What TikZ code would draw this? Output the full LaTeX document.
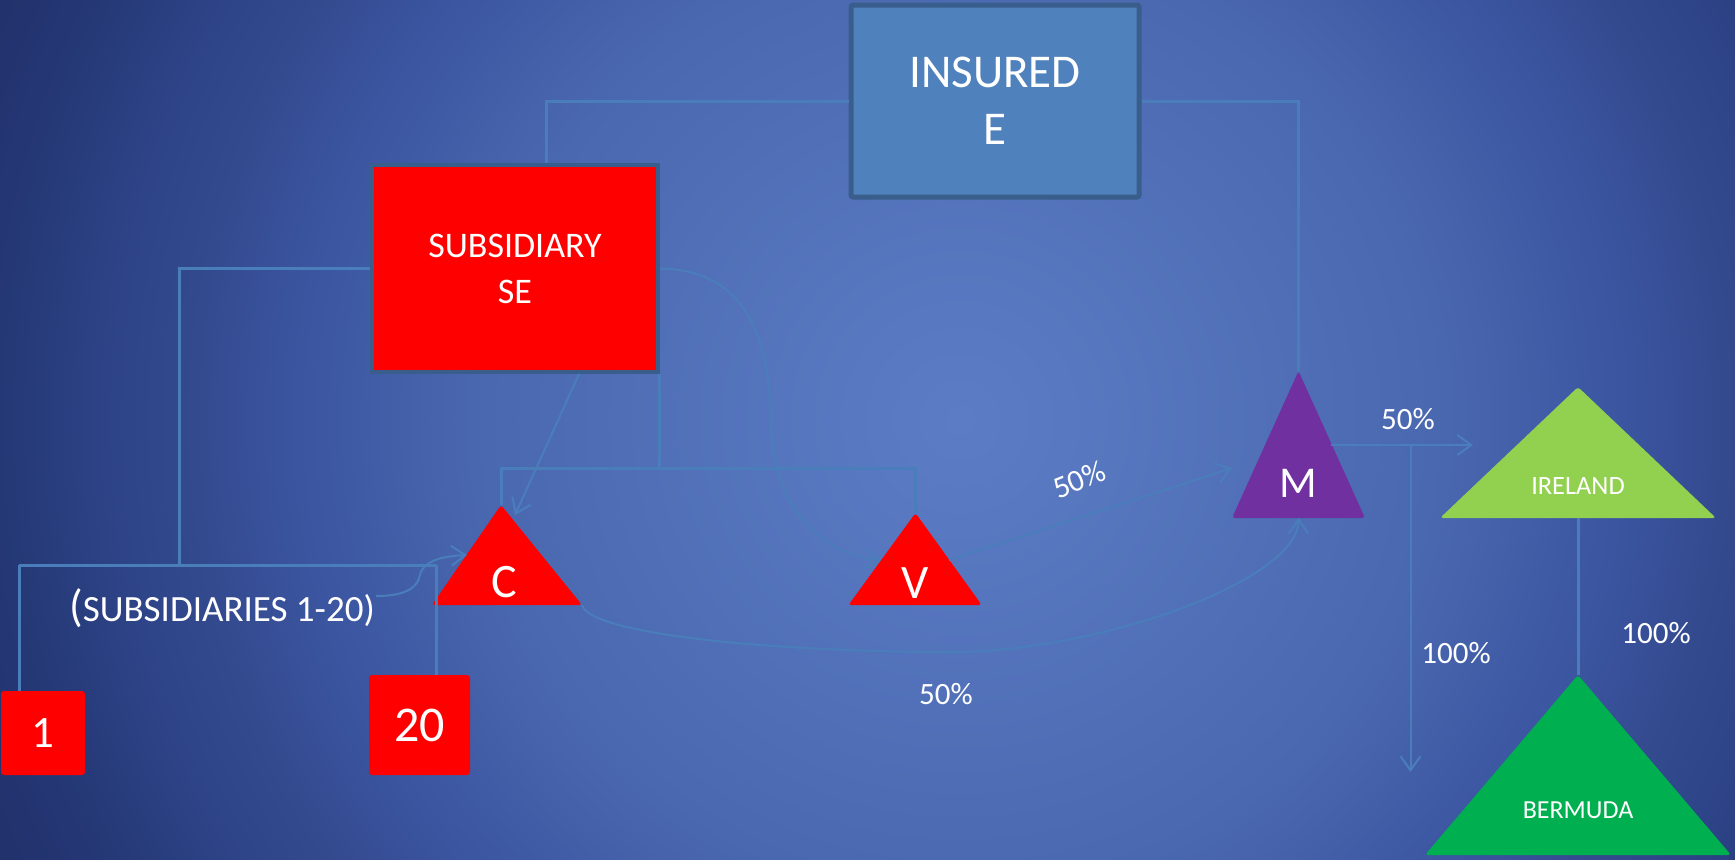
\documentclass[tikz,border=0pt]{standalone}
\usepackage{fontspec}
\setmainfont{Carlito}
\usetikzlibrary{arrows.meta}
\definecolor{conn}{RGB}{74,126,187}
\definecolor{insfill}{RGB}{79,129,189}
\definecolor{boxborder}{RGB}{58,94,139}
\definecolor{redfill}{RGB}{255,0,0}
\definecolor{purplefill}{RGB}{112,48,160}
\definecolor{lightgreen}{RGB}{146,208,80}
\definecolor{darkgreen}{RGB}{0,176,80}
\pgfdeclareradialshading{bgshade}{\pgfpoint{0bp}{0bp}}{%
rgb(0bp)=(0.361,0.490,0.776);
rgb(10.8bp)=(0.290,0.408,0.690);
rgb(15.1bp)=(0.231,0.333,0.627);
rgb(17.4bp)=(0.204,0.290,0.561);
rgb(19.2bp)=(0.180,0.267,0.533);
rgb(21.4bp)=(0.149,0.227,0.471);
rgb(23.2bp)=(0.133,0.200,0.435);
rgb(25bp)=(0.125,0.188,0.412);
rgb(50bp)=(0.125,0.188,0.412)}
\tikzset{
  ln/.style={draw=conn, line width=1.5pt},
  thinln/.style={draw=conn, line width=1pt},
  arr/.style={thinln, -{Straight Barb[length=7pt,width=10pt]}},
  insbox/.style={fill=insfill, draw=boxborder, line width=2.5pt, rounded corners=1pt, text=white, align=center, inner sep=0pt},
  subbox/.style={fill=redfill, draw=boxborder, line width=2pt, text=white, align=center, inner sep=0pt},
  redsq/.style={fill=redfill, rounded corners=1.5pt, inner sep=0pt, text=white},
  lbl/.style={text=white, inner sep=0pt},
  tri/.style={rounded corners=1.5pt}
}
\begin{document}
\begin{tikzpicture}[x=0.5pt, y=-0.5pt]
\useasboundingbox (0,0) rectangle (1735,859);
% background
\begin{scope}
\clip (0,0) rectangle (1735,859);
\shade[shading=bgshade] (-140,-680) rectangle (2060,1520);
\end{scope}

% boxes
\node[insbox, minimum width=144pt, minimum height=96pt, font=\fontsize{23.5}{28.5}\selectfont] (ins) at (995,101) {INSURED\\E};
\node[subbox, minimum width=143pt, minimum height=103.5pt, font=\fontsize{18}{23}\selectfont] (sub) at (515,268.5) {SUBSIDIARY\\SE};
\node[redsq, minimum width=42pt, minimum height=42pt, font=\fontsize{22.5}{27}\selectfont] (b1) at (43,733) {1};
\node[redsq, minimum width=50.5pt, minimum height=50pt, font=\fontsize{25}{30}\selectfont] (b20) at (419.5,725) {20};

% triangle corners
\coordinate (Ca) at (501,505); \coordinate (Cl) at (432,605); \coordinate (Cr) at (582,605);
\coordinate (Va) at (915.5,513); \coordinate (Vl) at (848.5,605); \coordinate (Vr) at (981.7,605);
\coordinate (Ma) at (1298.5,371); \coordinate (Ml) at (1232,518); \coordinate (Mr) at (1365,518);
\coordinate (Ia) at (1578,387); \coordinate (Il) at (1440,518); \coordinate (Ir) at (1716,518);
\coordinate (Ba) at (1578,675); \coordinate (Bl) at (1425,855); \coordinate (Br) at (1731,855);

\fill[redfill, tri] (Ca) -- (Cl) -- (Cr) -- cycle;
\fill[redfill, tri] (Va) -- (Vl) -- (Vr) -- cycle;
\fill[purplefill, tri] (Ma) -- (Ml) -- (Mr) -- cycle;
\fill[lightgreen, tri] (Ia) -- (Il) -- (Ir) -- cycle;
\fill[darkgreen, tri] (Ba) -- (Bl) -- (Br) -- cycle;

\node[lbl, font=\fontsize{24}{28}\selectfont] (Ct) at (504,582) {C};
\node[lbl, font=\fontsize{24}{28}\selectfont] (Vt) at (915,583) {V};
\node[lbl, font=\fontsize{22}{26}\selectfont] (Mt) at (1298.5,483) {M};
\node[lbl, font=\fontsize{13.2}{16}\selectfont] (It) at (1578,486) {IRELAND};
\node[lbl, font=\fontsize{13}{16}\selectfont] (Bt) at (1578,810) {BERMUDA};

% helper coordinates
\coordinate (subtop) at (546,163);
\coordinate (tb) at (179,565);
\coordinate (h1) at (19,565);
\coordinate (h2) at (436,565);
\coordinate (sbr) at (659.5,374);
\coordinate (cvbar) at (700,468);
\coordinate (sbc) at (579,374);
\coordinate (Cin) at (515,515);
\coordinate (Vlin) at (881,560);
\coordinate (Vrin) at (949,560);
\coordinate (Mlout) at (1232,468);
\coordinate (Mb) at (1298.5,518);
\coordinate (subsend) at (376,596);
\coordinate (Cleft) at (467,555);
\coordinate (Mright) at (1331,445);
\coordinate (Iarr) at (1473,445);
\coordinate (dstart) at (1410.5,445);
\coordinate (dend) at (1410.5,772);
\coordinate (Ibase) at (1578,518);

% orthogonal connectors
\draw[ln] (ins.west) -| (subtop);
\draw[ln] (ins.east) -| (Ma);
\draw[ln] (sub.west) -| (tb);
\draw[ln] (h1) -- (h2);
\draw[ln] (h1) -- (h1 |- b1.north);
\draw[ln] (h2) -- (h2 |- b20.north);
\draw[ln] (sbr) -- (sbr |- cvbar);
\draw[ln] (Ca) -- (Ca |- cvbar) -- (Va |- cvbar) -- (Va);
\draw[ln] (Ibase) -- (Ba);

% arrows and curves
\draw[arr] (sbc) -- (Cin);
\draw[arr] (sub.east) .. controls (745,270) and (770,335) .. (771,425) .. controls (772,505) and (822,555) .. (Vlin);
\draw[arr] (Vrin) -- (Mlout);
\draw[arr] (Cr) .. controls (590,635) and (780,652) .. (950,652) .. controls (1100,652) and (1298.5,580) .. (Mb);
\draw[arr] (subsend) .. controls (410,596) and (418,585) .. (420,575) .. controls (423,560) and (445,556) .. (Cleft);
\draw[arr] (Mright) -- (Iarr);
\draw[arr] (dstart) -- (dend);

% labels
\node[lbl, anchor=base, font=\fontsize{18.5}{22}\selectfont] (subs) at (222,621) {{\fontsize{22.5}{26}\selectfont(}SUBSIDIARIES 1-20)};
\node[lbl, rotate=22, font=\fontsize{15.5}{19}\selectfont] (p1) at (1079,480) {50\%};
\node[lbl, font=\fontsize{15.5}{19}\selectfont] (p2) at (946,694) {50\%};
\node[lbl, font=\fontsize{15.5}{19}\selectfont] (p3) at (1408,419) {50\%};
\node[lbl, font=\fontsize{15.5}{19}\selectfont] (p4) at (1456,653) {100\%};
\node[lbl, font=\fontsize{15.5}{19}\selectfont] (p5) at (1656,633) {100\%};
\end{tikzpicture}
\end{document}
